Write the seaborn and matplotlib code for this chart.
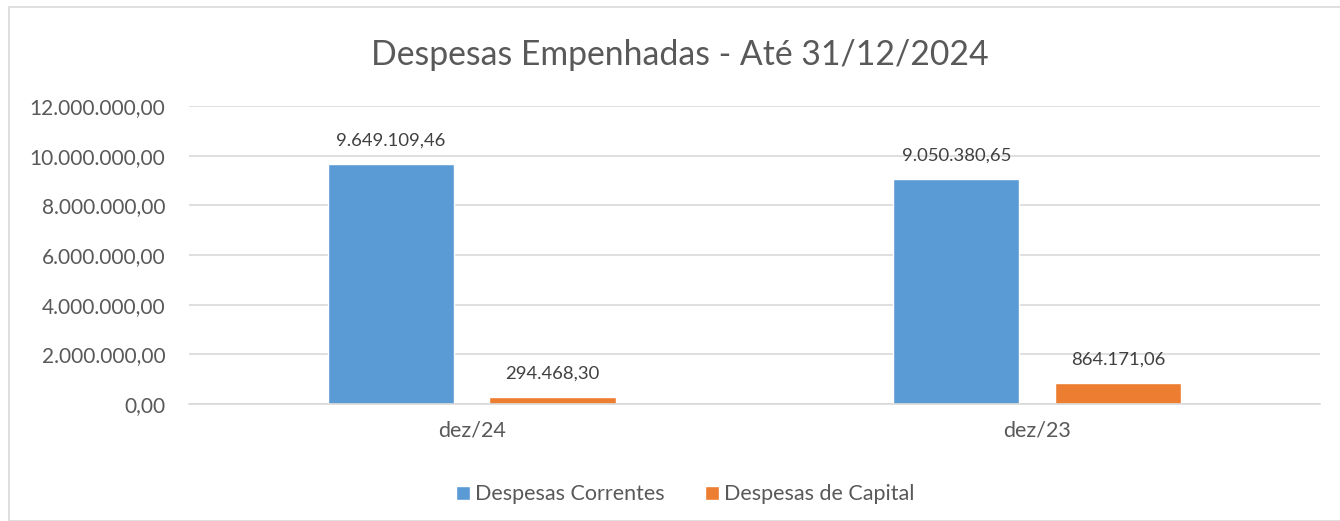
"""Despesas Empenhadas - bar chart recreated with seaborn."""

import numpy as np
import pandas as pd
import matplotlib
matplotlib.use("Agg")
import matplotlib.pyplot as plt
from matplotlib.patches import Rectangle
import seaborn as sns

PERIODS = ["dez/24", "dez/23"]
SERIES = ["Despesas Correntes", "Despesas de Capital"]
CORRENTES = [9649109.46, 9050380.65]
CAPITAL = [294468.30, 864171.06]
COLORS = ["#5B9BD5", "#ED7D31"]

df = pd.DataFrame({
    "periodo": PERIODS * 2,
    "serie": [SERIES[0]] * 2 + [SERIES[1]] * 2,
    "valor": CORRENTES + CAPITAL,
})


def br(v):
    s = f"{v:,.2f}"
    return s.replace(",", "X").replace(".", ",").replace("X", ".")


sns.set_style("white")
plt.rcParams["font.family"] = ["Lato", "DejaVu Sans"]

fig = plt.figure(figsize=(13.4, 5.21), dpi=100)
ax = fig.add_axes([0.141, 0.2246, 0.844, 0.572])

sns.barplot(data=df, x="periodo", y="valor", hue="serie", order=PERIODS,
            hue_order=SERIES, palette=COLORS, width=0.572, gap=0.22,
            saturation=1, ax=ax, legend=True)

ax.set_ylim(0, 12000000)
ax.set_xlim(-0.5, 1.5)
ticks = np.arange(0, 12000001, 2000000)
ax.set_yticks(ticks)
ax.set_yticklabels([br(t) for t in ticks], fontsize=15, color="#595959")
ax.tick_params(axis="x", labelsize=15.5, colors="#595959", length=0, pad=12)
ax.tick_params(axis="y", length=0, pad=17)
ax.grid(axis="y", color="#D9D9D9", linewidth=1.2)
ax.set_axisbelow(True)
ax.set_xlabel("")
ax.set_ylabel("")
for sp in ["left", "right", "top"]:
    ax.spines[sp].set_visible(False)
ax.spines["bottom"].set_color("#D9D9D9")
ax.spines["bottom"].set_linewidth(1.2)

for cont in ax.containers:
    ax.bar_label(cont, labels=[br(v) for v in cont.datavalues], padding=11,
                 fontsize=13.3, color="#404040")

ax.legend(loc="upper center", bbox_to_anchor=(0.4386, -0.205), ncol=2,
          frameon=False, fontsize=15.5, handlelength=0.65, handleheight=0.65,
          handletextpad=0.25, columnspacing=1.85, labelcolor="#595959")

fig.text(0.507, 0.895, "Despesas Empenhadas - Até 31/12/2024", ha="center",
         va="center", fontsize=24.3, color="#595959")

fig.patches.append(Rectangle((9 / 1340, 0.0), 1.0, 1 - 7 / 521,
                             transform=fig.transFigure, fill=False,
                             edgecolor="#D9D9D9", linewidth=1.2))

fig.savefig("out.png", dpi=100)
plt.close(fig)
